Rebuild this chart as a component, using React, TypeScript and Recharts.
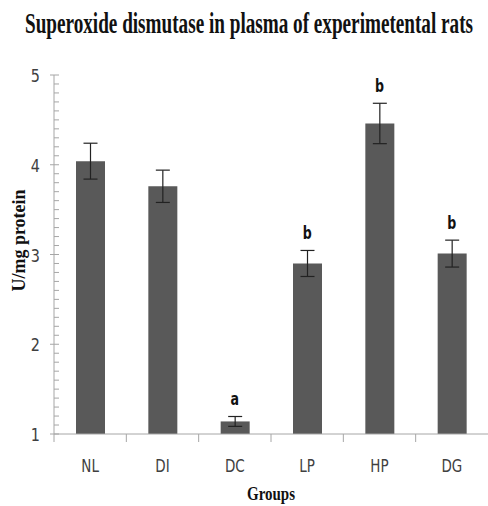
import React from 'react';
import { ComposedChart, Bar, Line, XAxis, YAxis, ErrorBar, LabelList } from 'recharts';

const categories = ['NL', 'DI', 'DC', 'LP', 'HP', 'DG'];
const sodMeans = [4.04, 3.76, 1.14, 2.9, 4.46, 3.01];
const sodErrors = [0.2, 0.18, 0.055, 0.145, 0.225, 0.15];
const sigLetters = ['', '', 'a', 'b', 'b', 'b'];
const yMajorTicks = [1, 2, 3, 4, 5];

const titleText = 'Superoxide dismutase in plasma of experimetental rats';
const yLabelText = 'U/mg protein';
const xLabelText = 'Groups';

const data = categories.map((g, i) => ({
  group: g,
  sod: sodMeans[i],
  err: sodErrors[i],
  labelPos: sodMeans[i] + sodErrors[i],
  sig: sigLetters[i],
}));

const yTicks: number[] = [];
yMajorTicks.forEach((t, i) => {
  yTicks.push(t);
  if (i < yMajorTicks.length - 1) {
    const next = yMajorTicks[i + 1];
    for (let k = 1; k < 10; k++) {
      yTicks.push(Math.round((t + ((next - t) * k) / 10) * 100) / 100);
    }
  }
});

const AXIS = '#a6a6a6';
const TICK_FONT = "'Liberation Sans Narrow', 'Arial Narrow', 'DejaVu Sans Condensed', sans-serif";
const SERIF = "'Liberation Serif', 'Times New Roman', serif";

const YTick = (props: any) => {
  const { x, y, payload } = props;
  const v = payload.value;
  const major = Math.abs(v - Math.round(v)) < 1e-6;
  return (
    <g>
      {major ? (
        <line x1={x - 4} x2={x + 5} y1={y} y2={y} stroke={AXIS} strokeWidth={1} />
      ) : (
        <line x1={x} x2={x + 5} y1={y} y2={y} stroke={AXIS} strokeWidth={1} />
      )}
      {major && (
        <text
          transform={`translate(${x - 14},${y + 7}) scale(1,1.15)`}
          textAnchor="end"
          fontSize={16}
          fill="#404040"
          fontFamily={TICK_FONT}
        >
          {v}
        </text>
      )}
    </g>
  );
};

const XTick = (props: any) => {
  const { x, y, payload } = props;
  const off = payload && typeof payload.offset === 'number' && payload.offset > 0 ? payload.offset : 36;
  return (
    <g>
      <line x1={x - off} x2={x - off} y1={y} y2={y + 8} stroke={AXIS} strokeWidth={1} />
      <text
        transform={`translate(${x},${y + 38}) scale(1,1.2)`}
        textAnchor="middle"
        fontSize={15}
        fill="#404040"
        fontFamily={TICK_FONT}
      >
        {payload.value}
      </text>
    </g>
  );
};

const SigLabel = (props: any) => {
  const { x, y, value } = props;
  if (!value) return null;
  return (
    <text
      transform={`translate(${x},${y - 11}) scale(1,1.2)`}
      textAnchor="middle"
      fontSize={14}
      fontWeight="bold"
      fill="#111"
      fontFamily={TICK_FONT}
    >
      {value}
    </text>
  );
};

const YLabel = (props: any) => {
  const vb = props.viewBox || { x: 0, y: 75, width: 54, height: 359 };
  const cx = vb.x + 25;
  const cy = vb.y + vb.height / 2 - 14;
  return (
    <text
      transform={`translate(${cx},${cy}) rotate(-90)`}
      textAnchor="middle"
      fontSize={18}
      fontWeight="bold"
      fill="#111"
      fontFamily={SERIF}
    >
      {yLabelText}
    </text>
  );
};

const XLabel = (props: any) => {
  const vb = props.viewBox || { x: 54, y: 434, width: 434, height: 72 };
  const cx = vb.x + vb.width / 2;
  const cy = vb.y + 66;
  return (
    <text
      transform={`translate(${cx},${cy}) scale(1,1.3)`}
      textAnchor="middle"
      fontSize={15}
      fontWeight="bold"
      fill="#111"
      fontFamily={SERIF}
    >
      {xLabelText}
    </text>
  );
};

export default function App() {
  return (
    <div style={{ position: 'absolute', left: 0, top: 0, width: 488, height: 506, background: '#fff' }}>
      <ComposedChart
        width={488}
        height={506}
        data={data}
        margin={{ top: 75, right: 0, left: 0, bottom: 0 }}
      >
        <XAxis
          dataKey="group"
          height={72}
          tickLine={false}
          tickSize={0}
          tickMargin={0}
          axisLine={{ stroke: AXIS }}
          tick={<XTick />}
          interval={0}
          label={<XLabel />}
        />
        <YAxis
          width={54}
          domain={[1, 5]}
          ticks={yTicks}
          interval={0}
          tickLine={false}
          tickSize={0}
          tickMargin={0}
          axisLine={{ stroke: AXIS }}
          tick={<YTick />}
          allowDataOverflow
          label={<YLabel />}
        />
        <Bar dataKey="sod" fill="#595959" barSize={29} isAnimationActive={false}>
          <ErrorBar dataKey="err" width={7} stroke="#222" strokeWidth={1.2} direction="y" />
        </Bar>
        <Line
          dataKey="labelPos"
          stroke="none"
          dot={false}
          activeDot={false}
          legendType="none"
          isAnimationActive={false}
        >
          <LabelList dataKey="sig" position="top" content={<SigLabel />} />
        </Line>
      </ComposedChart>
      <svg
        width={488}
        height={70}
        style={{ position: 'absolute', left: 0, top: 0, pointerEvents: 'none' }}
      >
        <text
          transform="translate(249,33) scale(1,1.5)"
          textAnchor="middle"
          fontSize={19}
          fontWeight="bold"
          fill="#111"
          fontFamily={SERIF}
          textLength={448}
          lengthAdjust="spacingAndGlyphs"
        >
          {titleText}
        </text>
      </svg>
    </div>
  );
}
